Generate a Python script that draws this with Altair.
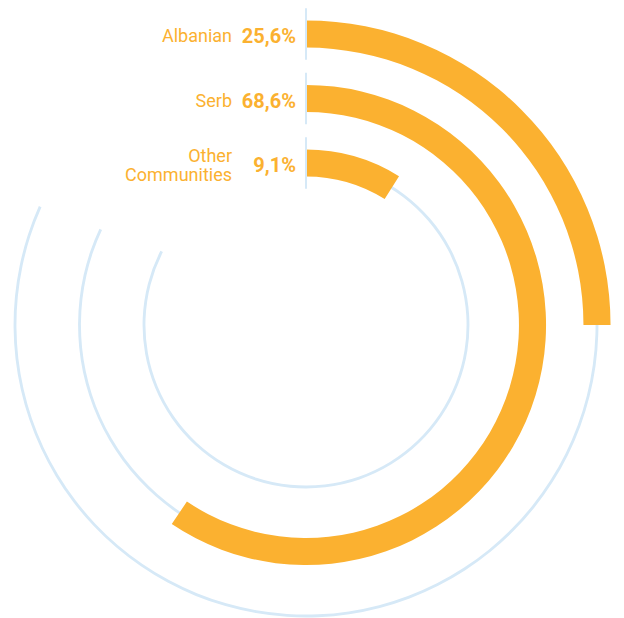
import altair as alt
import pandas as pd

# ---- data ----
groups = ["Albanian", "Serb", "Other\nCommunities"]
share_pct = [25.6, 68.6, 9.1]
share_labels = ["25,6%", "68,6%", "9,1%"]
ring = [3, 2, 1]                   # 3 = outer ring
bar_end_deg = [90, 214, 32]        # drawn arc extent (degrees, clockwise from top)
track_end_deg = [294, 295, 297]    # light-blue guide track extent

df = pd.DataFrame({
    "group": groups,
    "pct": share_pct,
    "label": share_labels,
    "ring": ring,
    "bar_end": bar_end_deg,
    "track_end": track_end_deg,
})
df["start"] = 0

ORANGE = "#FBB130"
BLUE = "#D6E9F7"
FONT = "Roboto, sans-serif"
CX, CY = 298, 317

theta_scale = alt.Scale(domain=[0, 360], range=[0, 6.283185307179586])
r_scale = alt.Scale(type="linear", domain=[0, 3], range=[97.5, 291])
y_scale = alt.Scale(type="linear", domain=[0, 3], range=[CY - 97.5, CY - 291])

base = alt.Chart(df)

track = base.transform_calculate(
    r0="datum.ring - 0.022", r1="datum.ring + 0.022"
).mark_arc(color=BLUE).encode(
    x=alt.value(CX), y=alt.value(CY),
    theta=alt.Theta("start:Q", scale=theta_scale, stack=None),
    theta2="track_end:Q",
    radius=alt.Radius("r0:Q", scale=r_scale),
    radius2="r1:Q",
)

bars = base.transform_calculate(
    r0="datum.ring - 0.21", r1="datum.ring + 0.21"
).mark_arc(color=ORANGE).encode(
    x=alt.value(CX), y=alt.value(CY),
    theta=alt.Theta("start:Q", scale=theta_scale, stack=None),
    theta2="bar_end:Q",
    radius=alt.Radius("r0:Q", scale=r_scale),
    radius2="r1:Q",
)

rules = base.transform_calculate(
    y0="datum.ring - 0.4", y1="datum.ring + 0.4"
).mark_rule(color=BLUE, strokeWidth=2).encode(
    x=alt.value(CX),
    y=alt.Y("y0:Q", scale=y_scale, axis=None),
    y2="y1:Q",
)

# multi-line names are lifted so the block is centred on the bar
names = base.transform_calculate(
    rt="datum.ring + (length(split(datum.group, '\\n')) - 1) * 0.135"
).mark_text(
    align="right", baseline="middle", dx=-74, dy=3, font=FONT,
    fontSize=18, color=ORANGE, lineBreak="\n", lineHeight=19,
).encode(
    x=alt.value(CX), y=alt.value(CY),
    theta=alt.Theta("start:Q", scale=theta_scale, stack=None),
    radius=alt.Radius("rt:Q", scale=r_scale),
    text="group:N",
)

values = base.mark_text(
    align="right", baseline="middle", dx=-10, dy=3, font=FONT,
    fontSize=20, fontWeight="bold", color=ORANGE,
).encode(
    x=alt.value(CX), y=alt.value(CY),
    theta=alt.Theta("start:Q", scale=theta_scale, stack=None),
    radius=alt.Radius("ring:Q", scale=r_scale),
    text="label:N",
)

chart = alt.layer(track, bars, rules, names, values).properties(
    width=608, height=610, padding=0,
    autosize=alt.AutoSizeParams(type="none"),
).configure_view(stroke=None)

chart.save("out.html", embed_options={"renderer": "svg", "actions": False})
